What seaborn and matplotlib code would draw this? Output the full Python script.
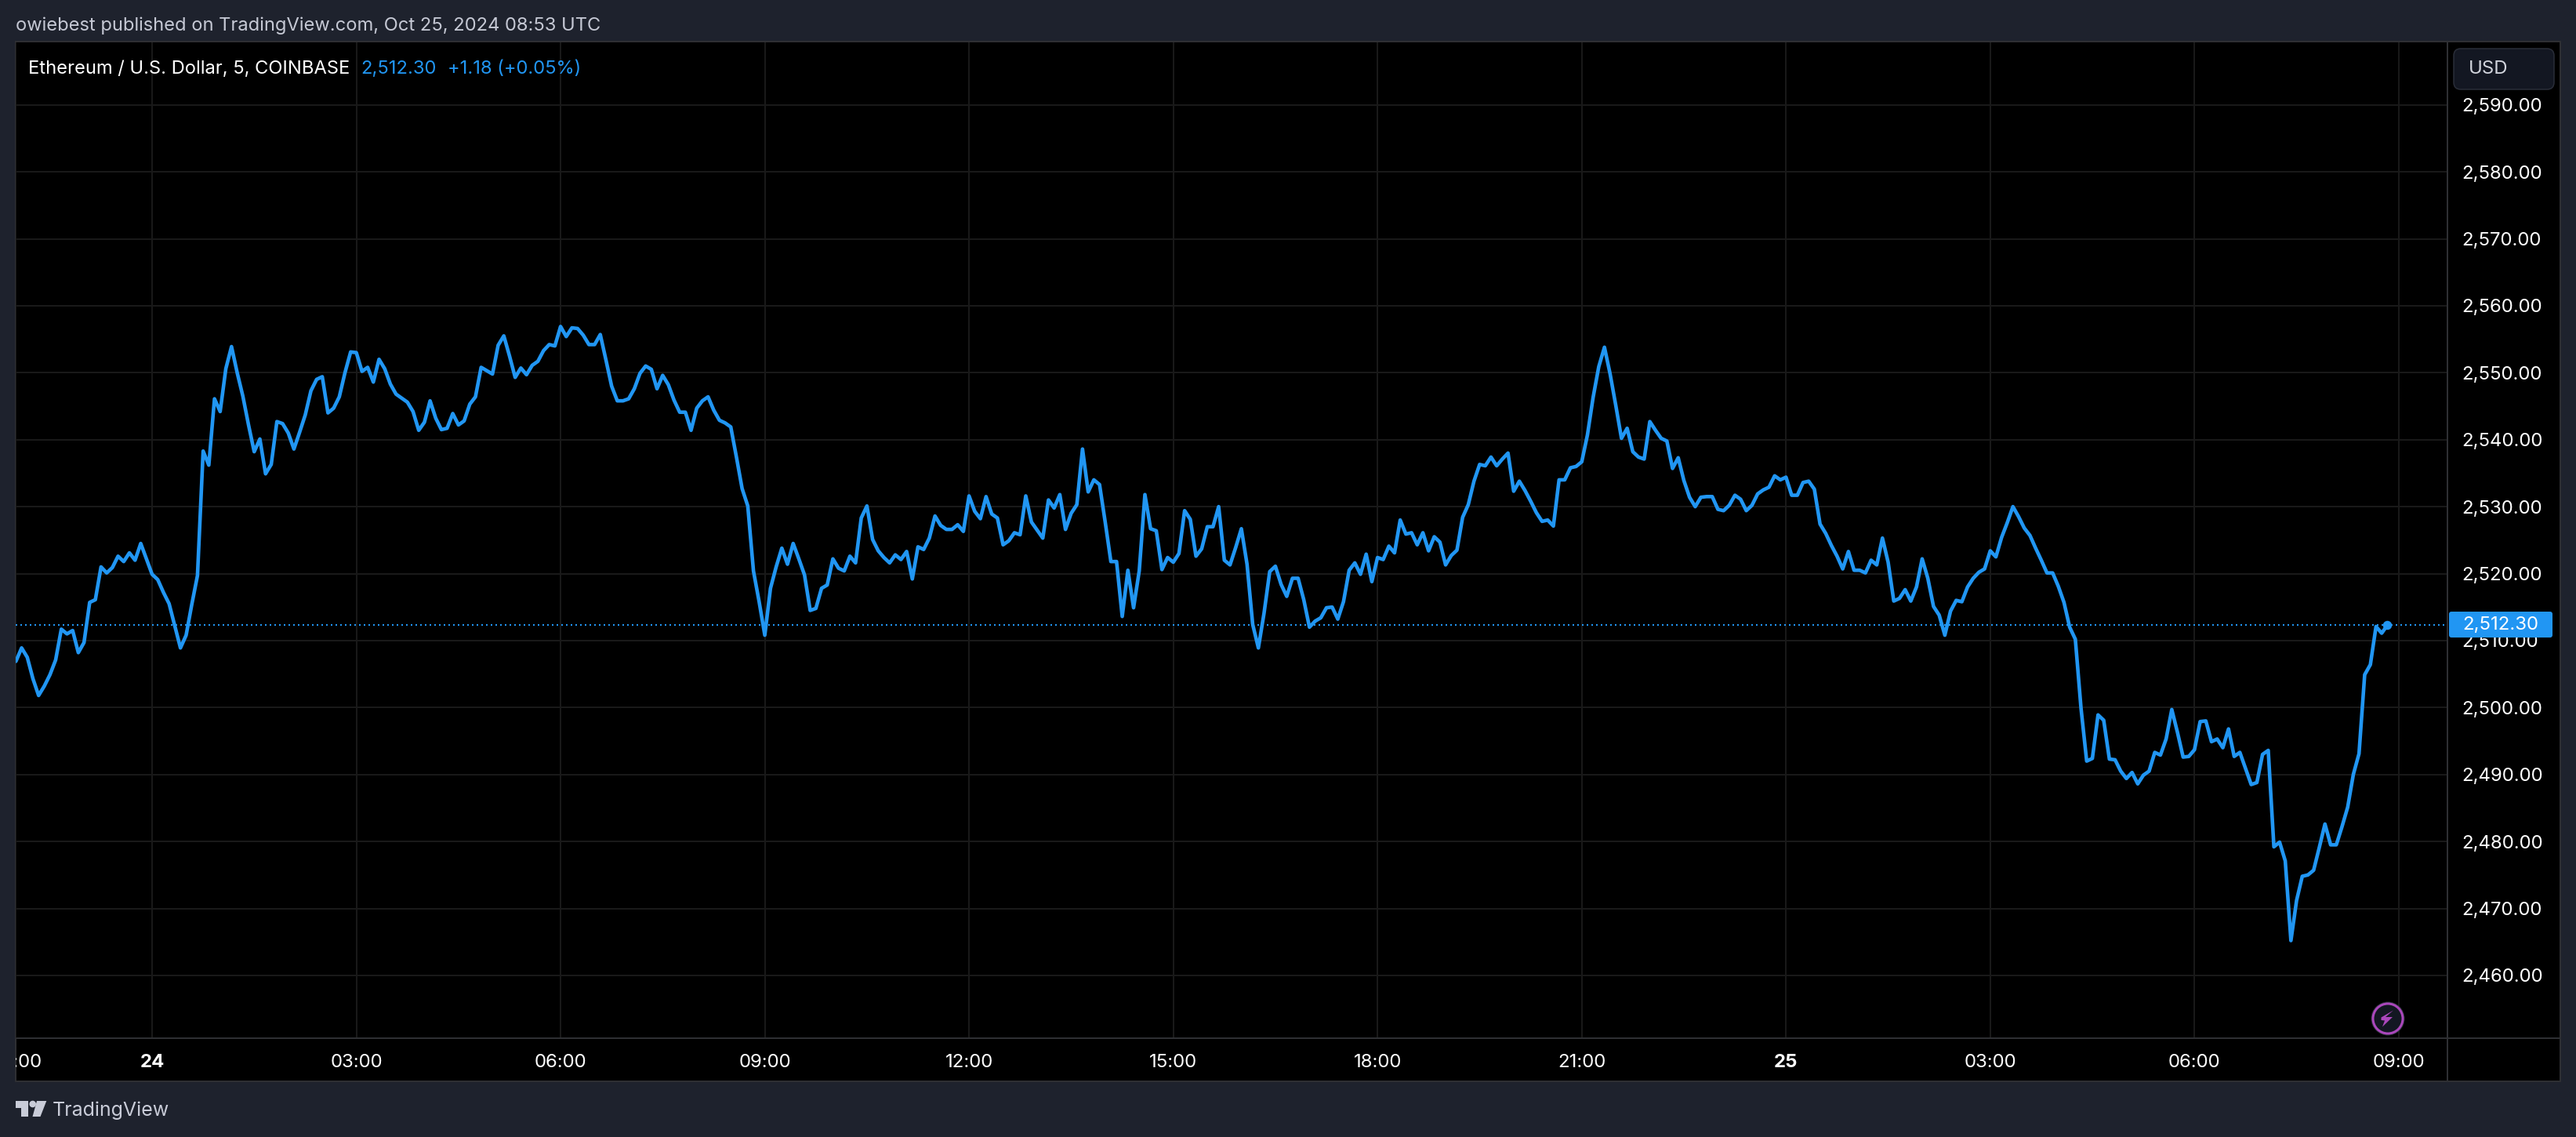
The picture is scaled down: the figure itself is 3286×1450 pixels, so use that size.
import numpy as np
import pandas as pd
import matplotlib
matplotlib.use("Agg")
import matplotlib.pyplot as plt
from matplotlib.patches import Rectangle, Polygon, Circle, FancyBboxPatch
from matplotlib.lines import Line2D
from matplotlib.transforms import Affine2D
import seaborn as sns

# ---- data: 5-minute closes, ETH/USD (Oct 23 22:00 UTC onward) ----
close_oct23 = [
    2506.9, 2508.9, 2507.5, 2504.3, 2501.8, 2503.2, 2504.9, 2507.1, 2511.7, 2511.0, 2511.5, 2508.2,
    2509.7, 2515.7, 2516.1, 2521.0, 2520.1, 2520.9, 2522.6, 2521.8, 2523.1, 2522.0, 2524.5, 2522.2,
]
close_oct24_a = [
    2519.9, 2519.1, 2517.2, 2515.5, 2512.2, 2508.9, 2510.8, 2515.4, 2519.7, 2538.3, 2536.2, 2546.1,
    2544.2, 2550.6, 2553.9, 2550.0, 2546.5, 2542.2, 2538.2, 2540.1, 2534.9, 2536.3, 2542.7, 2542.4,
    2541.0, 2538.6, 2541.1, 2543.7, 2547.3, 2549.0, 2549.4, 2544.0, 2544.7, 2546.4, 2550.0, 2553.1,
    2553.0, 2550.2, 2550.8, 2548.6, 2552.0, 2550.6, 2548.3, 2546.8, 2546.2, 2545.6, 2544.2, 2541.4,
    2542.6, 2545.8, 2543.2, 2541.5, 2541.7, 2543.9, 2542.2, 2542.8, 2545.3, 2546.4, 2550.8, 2550.3,
    2549.8, 2554.1, 2555.5, 2552.5, 2549.3, 2550.7, 2549.7, 2551.1, 2551.7, 2553.3, 2554.2, 2554.0,
    2556.9, 2555.4, 2556.7, 2556.6, 2555.6, 2554.2, 2554.2, 2555.7, 2551.9, 2548.0, 2545.8, 2545.8,
    2546.1, 2547.6, 2549.9, 2551.0, 2550.5, 2547.6, 2549.6, 2548.2, 2545.9, 2544.1, 2544.1, 2541.4,
    2544.7, 2545.8, 2546.4, 2544.4, 2542.9, 2542.5, 2541.9, 2537.4, 2532.7, 2530.1, 2520.4, 2515.8,
]
close_oct24_b = [
    2510.8, 2517.8, 2521.0, 2523.8, 2521.4, 2524.5, 2522.2, 2519.8, 2514.5, 2514.8, 2517.8, 2518.3,
    2522.2, 2520.8, 2520.4, 2522.6, 2521.6, 2528.3, 2530.1, 2525.1, 2523.4, 2522.4, 2521.6, 2522.8,
    2522.1, 2523.3, 2519.2, 2524.0, 2523.6, 2525.3, 2528.6, 2527.2, 2526.6, 2526.6, 2527.3, 2526.3,
    2531.6, 2529.3, 2528.2, 2531.5, 2528.9, 2528.3, 2524.3, 2524.9, 2526.1, 2525.8, 2531.6, 2527.7,
    2526.5, 2525.3, 2531.0, 2529.8, 2531.8, 2526.6, 2529.0, 2530.3, 2538.6, 2532.2, 2534.0, 2533.3,
    2527.7, 2521.8, 2521.8, 2513.6, 2520.5, 2514.9, 2520.4, 2531.8, 2526.7, 2526.4, 2520.6, 2522.4,
    2521.7, 2523.0, 2529.4, 2528.1, 2522.6, 2523.7, 2527.0, 2527.0, 2530.0, 2522.0, 2521.3, 2523.9,
    2526.7, 2521.4, 2512.4, 2508.9, 2514.1, 2520.3, 2521.1, 2518.4, 2516.6, 2519.3, 2519.3, 2516.1,
    2512.0, 2512.9, 2513.4, 2514.9, 2515.0, 2513.2, 2515.8, 2520.5, 2521.6, 2519.9, 2522.9, 2518.8,
    2522.4, 2522.1, 2524.1, 2523.1, 2528.0, 2525.9, 2526.1, 2524.3, 2526.1, 2523.4, 2525.5, 2524.7,
    2521.3, 2522.7, 2523.5, 2528.4, 2530.3, 2533.8, 2536.3, 2536.1, 2537.4, 2536.1, 2537.1, 2538.0,
    2532.3, 2533.8, 2532.4, 2530.8, 2529.1, 2527.8, 2528.0, 2527.1, 2534.0, 2534.0, 2535.8, 2536.0,
    2536.7, 2540.7, 2546.3, 2550.9, 2553.8, 2549.8, 2545.1, 2540.2, 2541.7, 2538.2, 2537.4, 2537.1,
    2542.7, 2541.4, 2540.2, 2539.8, 2535.7, 2537.3, 2533.9, 2531.4, 2530.0, 2531.4, 2531.5, 2531.5,
    2529.6, 2529.4, 2530.2, 2531.7, 2531.1, 2529.4, 2530.2, 2531.9, 2532.5, 2532.9, 2534.6, 2534.0,
]
close_oct25 = [
    2534.4, 2531.7, 2531.7, 2533.6, 2533.8, 2532.6, 2527.4, 2526.0, 2524.2, 2522.6, 2520.7, 2523.3,
    2520.5, 2520.5, 2520.1, 2522.0, 2521.3, 2525.3, 2521.7, 2515.9, 2516.3, 2517.6, 2515.9, 2518.0,
    2522.2, 2519.3, 2515.1, 2513.8, 2510.8, 2514.4, 2516.0, 2515.8, 2518.0, 2519.3, 2520.2, 2520.7,
    2523.4, 2522.5, 2525.4, 2527.6, 2530.0, 2528.5, 2526.8, 2525.7, 2523.8, 2522.0, 2520.1, 2520.1,
    2518.1, 2515.7, 2512.0, 2510.2, 2499.9, 2492.0, 2492.4, 2498.9, 2498.1, 2492.3, 2492.2, 2490.5,
    2489.4, 2490.3, 2488.6, 2489.9, 2490.5, 2493.3, 2492.9, 2495.3, 2499.7, 2496.3, 2492.6, 2492.7,
    2493.7, 2497.9, 2498.0, 2494.9, 2495.3, 2494.0, 2496.8, 2492.7, 2493.3, 2490.9, 2488.5, 2488.8,
    2493.0, 2493.6, 2479.2, 2479.9, 2477.1, 2465.2, 2471.2, 2474.8, 2475.0, 2475.7, 2479.1, 2482.6,
    2479.5, 2479.5, 2482.2, 2485.1, 2490.0, 2493.1, 2504.9, 2506.4, 2512.1, 2511.1, 2512.3,
]
price_levels = [2590, 2580, 2570, 2560, 2550, 2540, 2530, 2520, 2510, 2500, 2490, 2480, 2470, 2460]
time_bars = [-24, 0, 36, 72, 108, 144, 180, 216, 252, 288, 324, 360, 396]
time_labels = ["22:00", "24", "03:00", "06:00", "09:00", "12:00", "15:00", "18:00", "21:00",
               "25", "03:00", "06:00", "09:00"]
last_price = 2512.30
title_text = "owiebest published on TradingView.com, Oct 25, 2024 08:53 UTC"
legend_name = "Ethereum / U.S. Dollar, 5, COINBASE"
legend_last = "2,512.30"
legend_change = "+1.18 (+0.05%)"

closes = close_oct23 + close_oct24_a + close_oct24_b + close_oct25
df = pd.DataFrame({"bar": np.arange(-24, -24 + len(closes)), "close": closes})

# ---- style ----
W, H = 3286, 1450
BG, BLUE, GRID, BORDER = "#1e222d", "#2196f3", "#191919", "#2e2f33"
sns.set_theme(style="dark")
plt.rcParams["font.family"] = ["Inter", "DejaVu Sans"]

fig = plt.figure(figsize=(W / 100, H / 100), dpi=100, facecolor=BG)
px = Affine2D().scale(1 / W, -1 / H).translate(0, 1) + fig.transFigure
PT = 0.72  # points per pixel

L, R, T, B = 20, 3122, 54, 1324
ax = fig.add_axes([L / W, 1 - B / H, (R - L) / W, (B - T) / H], facecolor="black")
fig.add_artist(Rectangle((20, 53), 3246, 1326, transform=px, fc="black", ec=BORDER,
                         lw=2 * PT, zorder=-1))

ax.set_xlim((L - 194) / 7.237, (R - 194) / 7.237)
ax.set_ylim(2590 - (B - 133.7) / 8.54, 2590 - (T - 133.7) / 8.54)

sns.lineplot(data=df, x="bar", y="close", ax=ax, color=BLUE, linewidth=4.6 * PT, zorder=3,
             errorbar=None, estimator=None)
ax.plot(df["bar"].iloc[-1], df["close"].iloc[-1], "o", color=BLUE, ms=11.5 * PT, mew=0, zorder=4)
ax.axhline(last_price, color=BLUE, lw=2 * PT, ls=(0, (1, 2)), zorder=2.5)

ax.set_xlabel("")
ax.set_ylabel("")
ax.set_yticks(price_levels)
ax.set_yticklabels([f"{v:,.2f}" for v in price_levels])
ax.set_xticks(time_bars)
ax.set_xticklabels(time_labels)
ax.grid(True, color=GRID, lw=2 * PT)
ax.set_axisbelow(True)
ax.yaxis.tick_right()
ax.tick_params(axis="y", length=0, pad=18 * PT, labelsize=24 * PT, labelcolor="white")
ax.tick_params(axis="x", length=0, pad=20 * PT, labelsize=24 * PT, labelcolor="white")
clip = Rectangle((20, 1325), 3100, 54, transform=px)
for lbl, t in zip(ax.get_xticklabels(), time_labels):
    lbl.set_clip_path(clip)
    lbl.set_clip_on(True)
    if len(t) == 2:
        lbl.set_fontweight("bold")
for s in ax.spines.values():
    s.set_visible(False)

# frame separators
fig.add_artist(Line2D([3122, 3122], [54, 1379], transform=px, color=BORDER, lw=2 * PT, zorder=1))
fig.add_artist(Line2D([21, 3265], [1324, 1324], transform=px, color=BORDER, lw=2 * PT, zorder=1))

# price label tag
ax.add_patch(FancyBboxPatch((3124, 780), 132, 33, boxstyle="round,pad=0,rounding_size=3", transform=px,
                            fc=BLUE, ec="none", clip_on=False, zorder=6))
ax.text(3141, 797.5, f"{last_price:,.2f}", transform=px, color="white", fontsize=24 * PT,
        va="center", ha="left", zorder=7, clip_on=False)

# currency button
ax.add_patch(FancyBboxPatch((3130, 62), 128, 52, boxstyle="round,pad=0,rounding_size=9", transform=px,
                            fc="#131722", ec="#2a2e39", lw=1.5 * PT, clip_on=False, zorder=6))
ax.text(3149, 87.5, "USD", transform=px, color="#d1d4dc", fontsize=24 * PT, va="center", ha="left",
        zorder=7, clip_on=False)

# headers
fig.text(20, 33, title_text, transform=px, color="#c5c8d4", fontsize=23.7 * PT, va="center", ha="left")
ax.text(36, 88, legend_name, transform=px, color="white", fontsize=23.7 * PT, va="center", ha="left",
        zorder=7, clip_on=False)
ax.text(460, 88, legend_last, transform=px, color=BLUE, fontsize=23.7 * PT, va="center", ha="left",
        zorder=7, clip_on=False)
ax.text(571, 88, legend_change, transform=px, color=BLUE, fontsize=23.7 * PT, va="center", ha="left",
        zorder=7, clip_on=False)

# streak badge
ax.add_patch(Circle((3046, 1299), 21.5, transform=px, fc="#2a2e39", ec="none", clip_on=False, zorder=6))
ax.add_patch(Circle((3046, 1299), 19, transform=px, fc="#131722", ec="#ab47bc", lw=3 * PT, clip_on=False, zorder=6))
ax.add_patch(Polygon([(3053, 1288.5), (3043, 1297), (3052, 1297), (3039, 1309.5), (3042, 1301.5),
                      (3037.5, 1301), (3037.5, 1297.5)],
                     transform=px, fc="#ab47bc", ec="none", clip_on=False, zorder=7))

# brand logo
LOGO = "#c9ccd8"
fig.add_artist(Polygon([(20, 1404), (36, 1404), (36, 1424), (27, 1424), (27, 1413), (20, 1413)],
                       transform=px, fc=LOGO, ec="none"))
fig.add_artist(Circle((41.7, 1408), 4.3, transform=px, fc=LOGO, ec="none"))
fig.add_artist(Polygon([(47, 1404), (59.3, 1404), (51.5, 1424), (41.5, 1424)],
                       transform=px, fc=LOGO, ec="none"))
fig.text(67, 1416, "TradingView", transform=px, color=LOGO, fontsize=25 * PT, va="center", ha="left")

fig.savefig("out.png", dpi=100, facecolor=BG)
